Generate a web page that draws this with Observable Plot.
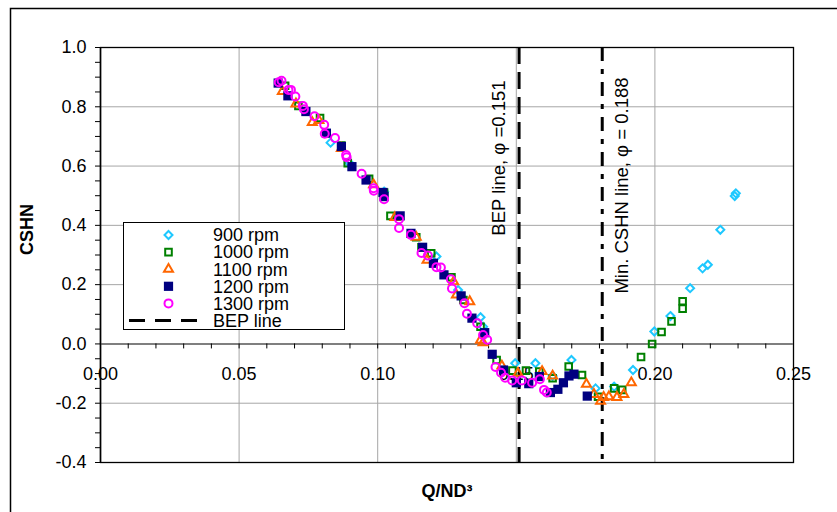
<!DOCTYPE html>
<html>
<head>
<meta charset="utf-8">
<script src="https://cdn.jsdelivr.net/npm/d3@7"></script>
<script src="https://cdn.jsdelivr.net/npm/@observablehq/plot@0.6"></script>
<style>
  html, body { margin: 0; padding: 0; background: white; }
  svg { display: block; }
</style>
</head>
<body>
<div id="chart"></div>
<script>
// ---- Data ----
const q900  = [0.0830, 0.0898, 0.1023, 0.1212, 0.1290, 0.1371, 0.1380, 0.1496, 0.1569, 0.1631, 0.1699, 0.1786, 0.1853, 0.1921, 0.1998, 0.2056, 0.2127, 0.2172, 0.2191, 0.2236, 0.2288, 0.2292];
const c900  = [0.679, 0.610, 0.514, 0.295, 0.182, 0.090, 0.058, -0.065, -0.065, -0.108, -0.054, -0.150, -0.144, -0.088, 0.042, 0.094, 0.188, 0.255, 0.267, 0.385, 0.499, 0.508];

const q1000 = [0.0666, 0.0714, 0.0792, 0.0869, 0.0892, 0.0969, 0.1023, 0.1046, 0.1139, 0.1158, 0.1193, 0.1266, 0.1309, 0.1371, 0.1429, 0.1486, 0.1535, 0.1583, 0.1631, 0.1689, 0.1737, 0.1795, 0.1853, 0.1882, 0.1950, 0.1990, 0.2024, 0.2060, 0.2100, 0.2100];
const c1000 = [0.871, 0.803, 0.762, 0.669, 0.610, 0.557, 0.511, 0.432, 0.360, 0.326, 0.306, 0.225, 0.148, 0.058, -0.054, -0.090, -0.090, -0.093, -0.116, -0.076, -0.105, -0.178, -0.150, -0.155, -0.044, 0.000, 0.040, 0.076, 0.119, 0.144];

const q1100 = [0.0656, 0.0705, 0.0764, 0.0788, 0.0869, 0.0985, 0.1062, 0.1139, 0.1178, 0.1274, 0.1284, 0.1332, 0.1371, 0.1380, 0.1448, 0.1506, 0.1593, 0.1631, 0.1753, 0.1780, 0.1804, 0.1815, 0.1834, 0.1863, 0.1888, 0.1915];
const c1100 = [0.852, 0.810, 0.747, 0.754, 0.660, 0.537, 0.427, 0.360, 0.283, 0.210, 0.165, 0.143, 0.013, 0.004, -0.074, -0.099, -0.093, -0.108, -0.136, -0.170, -0.193, -0.180, -0.178, -0.180, -0.170, -0.131];

const q1200 = [0.0641, 0.0676, 0.0741, 0.0815, 0.0869, 0.0907, 0.0958, 0.1019, 0.1023, 0.1081, 0.1120, 0.1162, 0.1201, 0.1239, 0.1301, 0.1340, 0.1386, 0.1413, 0.1454, 0.1500, 0.1545, 0.1583, 0.1623, 0.1650, 0.1670, 0.1690, 0.1708, 0.1756];
const c1200 = [0.880, 0.837, 0.784, 0.711, 0.666, 0.598, 0.553, 0.511, 0.497, 0.432, 0.373, 0.326, 0.272, 0.233, 0.162, 0.087, 0.038, -0.035, -0.088, -0.131, -0.134, -0.110, -0.164, -0.153, -0.131, -0.108, -0.102, -0.176];

const q1300 = [0.0643, 0.0653, 0.0678, 0.0687, 0.0703, 0.0730, 0.0734, 0.0772, 0.0807, 0.0809, 0.0846, 0.0886, 0.0888, 0.0942, 0.0985, 0.0986, 0.1023, 0.1077, 0.1077, 0.1120, 0.1158, 0.1181, 0.1212, 0.1228, 0.1264, 0.1268, 0.1313, 0.1322, 0.1359, 0.1380, 0.1395, 0.1425, 0.1445, 0.1460, 0.1485, 0.1520, 0.1557, 0.1585, 0.1600, 0.1610];
const c1300 = [0.883, 0.888, 0.857, 0.857, 0.835, 0.803, 0.792, 0.768, 0.739, 0.709, 0.695, 0.637, 0.630, 0.574, 0.525, 0.517, 0.488, 0.421, 0.391, 0.368, 0.307, 0.298, 0.259, 0.258, 0.218, 0.187, 0.137, 0.102, 0.070, 0.030, 0.014, -0.078, -0.097, -0.114, -0.123, -0.123, -0.131, -0.119, -0.155, -0.164];

const seriesNames   = ["900 rpm", "1000 rpm", "1100 rpm", "1200 rpm", "1300 rpm"];
const seriesQ       = [q900, q1000, q1100, q1200, q1300];
const seriesC       = [c900, c1000, c1100, c1200, c1300];
const seriesColors  = ["#1EC8FF", "#008000", "#FF6600", "#000080", "#FF00FF"];
const seriesSymbols = ["diamond2", "square2", "triangle2", "square", "circle"];
const seriesFilled  = [false, false, false, true, false];
const seriesR       = [3.6, 4.2, 4.3, 5.2, 4.0];

const bepPhi   = 0.151;   // drawn position of BEP line
const minPhi   = 0.181;   // drawn position of Min. CSHN line
const bepLabel = "BEP line, \u03C6 =0.151";
const minLabel = "Min. CSHN line, \u03C6 = 0.188";

const xTicks = [0.00, 0.05, 0.10, 0.15, 0.20, 0.25];
const xGrid  = [0.05, 0.10, 0.15, 0.20];
const xMinor = d3.range(0, 26).map(i => i / 100);
const yTicks = [-0.4, -0.2, 0.0, 0.2, 0.4, 0.6, 0.8, 1.0];
const yGrid  = [-0.2, 0.2, 0.4, 0.6, 0.8];
const yMinor = d3.range(0, 29).map(i => -0.4 + i * 0.05);

const xTitle = "Q/ND\u00B3";
const yTitle = "CSHN";

// ---- Build point table ----
const points = [];
seriesNames.forEach((name, s) => {
  seriesQ[s].forEach((q, i) => points.push({series: name, s, q, c: seriesC[s][i]}));
});

const font = "'Liberation Sans', Arial, sans-serif";

const dotMarks = seriesNames.map((name, s) => Plot.dot(points.filter(d => d.s === s), {
  x: "q", y: "c",
  symbol: () => seriesSymbols[s],
  r: seriesR[s],
  stroke: seriesFilled[s] ? "none" : seriesColors[s],
  fill: seriesFilled[s] ? seriesColors[s] : "none",
  strokeWidth: 2
}));

const chart = Plot.plot({
  width: 837,
  height: 512,
  marginLeft: 100,
  marginRight: 44,
  marginTop: 47,
  marginBottom: 50,
  style: {fontFamily: font, fontSize: "18px", background: "white", color: "black", overflow: "hidden"},
  x: {domain: [0, 0.25], axis: null},
  y: {domain: [-0.4, 1.0], axis: null},
  symbol: {type: "identity"},
  marks: [
    Plot.ruleX(xGrid, {x: d => d, stroke: "#a6a6a6", strokeWidth: 1}),
    Plot.ruleY(yGrid, {y: d => d, stroke: "#a6a6a6", strokeWidth: 1}),
    Plot.frame({stroke: "black", strokeWidth: 1.3}),
    Plot.ruleY([0], {y: d => d, stroke: "#7f7f7f", strokeWidth: 2}),
    Plot.ruleX([0], {x: d => d, stroke: "black", strokeWidth: 1.5}),
    // minor ticks
    Plot.ruleX(xMinor, {x: d => d, y1: 0, y2: 0, insetBottom: -5, stroke: "black", strokeWidth: 1}),
    Plot.ruleY(yMinor, {y: d => d, x1: 0, x2: 0, insetLeft: -5, stroke: "black", strokeWidth: 1}),
    // tick labels
    Plot.text(yTicks, {x: 0, y: d => d, text: d => d.toFixed(1), textAnchor: "end", dx: -14, fontSize: 18, fill: "black"}),
    Plot.text(xTicks, {x: d => d, y: 0, text: d => d.toFixed(2), dy: 30, fontSize: 18, fill: "black"}),
    // vertical reference lines
    Plot.ruleX([bepPhi], {x: d => d, stroke: "black", strokeWidth: 3, strokeDasharray: "17,8"}),
    Plot.ruleX([minPhi], {x: d => d, stroke: "black", strokeWidth: 3, strokeDasharray: "14,8,5,8"}),
    Plot.text([bepLabel], {x: bepPhi, frameAnchor: "top", text: d => d, rotate: -90, textAnchor: "end", dx: -27, dy: 33, fontSize: 18.5, fill: "black"}),
    Plot.text([minLabel], {x: minPhi, frameAnchor: "top", text: d => d, rotate: -90, textAnchor: "end", dx: 13, dy: 30, fontSize: 18.5, fill: "black"}),
    // axis titles
    Plot.text([yTitle], {frameAnchor: "left", text: d => d, rotate: -90, dx: -73, fontWeight: "bold", fontSize: 18, fill: "black"}),
    Plot.text([xTitle], {frameAnchor: "bottom", text: d => d, dy: 34, fontWeight: "bold", fontSize: 18, fill: "black"}),
    ...dotMarks
  ]
});

document.getElementById("chart").appendChild(chart);

// ---- outer chart border and legend ----
const svg = d3.select(chart);
svg.append("rect")
  .attr("x", 10.5).attr("y", 8.5).attr("width", 1000).attr("height", 1000)
  .attr("fill", "none").attr("stroke", "black").attr("stroke-width", 1.5);

const lg = svg.append("g").attr("font-family", font).attr("font-size", 18).attr("text-anchor", "start");
lg.append("rect").attr("x", 123.5).attr("y", 222.5).attr("width", 221).attr("height", 107)
  .attr("fill", "white").attr("stroke", "black").attr("stroke-width", 1);

const d3Symbols = {diamond2: d3.symbolDiamond2, square2: d3.symbolSquare2, triangle2: d3.symbolTriangle2, square: d3.symbolSquare, circle: d3.symbolCircle};
const rowY = i => 235 + i * 17.1;
seriesNames.forEach((name, s) => {
  const y = rowY(s);
  lg.append("path")
    .attr("transform", `translate(168.5,${y})`)
    .attr("d", d3.symbol(d3Symbols[seriesSymbols[s]], Math.PI * seriesR[s] * seriesR[s])())
    .attr("fill", seriesFilled[s] ? seriesColors[s] : "none")
    .attr("stroke", seriesFilled[s] ? "none" : seriesColors[s])
    .attr("stroke-width", 2);
  lg.append("text").attr("x", 213).attr("y", y).attr("dy", "0.35em").attr("text-anchor", "start").attr("fill", "black").text(name);
});
const by = rowY(5);
lg.append("line").attr("x1", 129).attr("x2", 205).attr("y1", by).attr("y2", by)
  .attr("stroke", "black").attr("stroke-width", 3).attr("stroke-dasharray", "16,10");
lg.append("text").attr("x", 213).attr("y", by).attr("dy", "0.35em").attr("text-anchor", "start").attr("fill", "black").text("BEP line");
</script>
</body>
</html>
